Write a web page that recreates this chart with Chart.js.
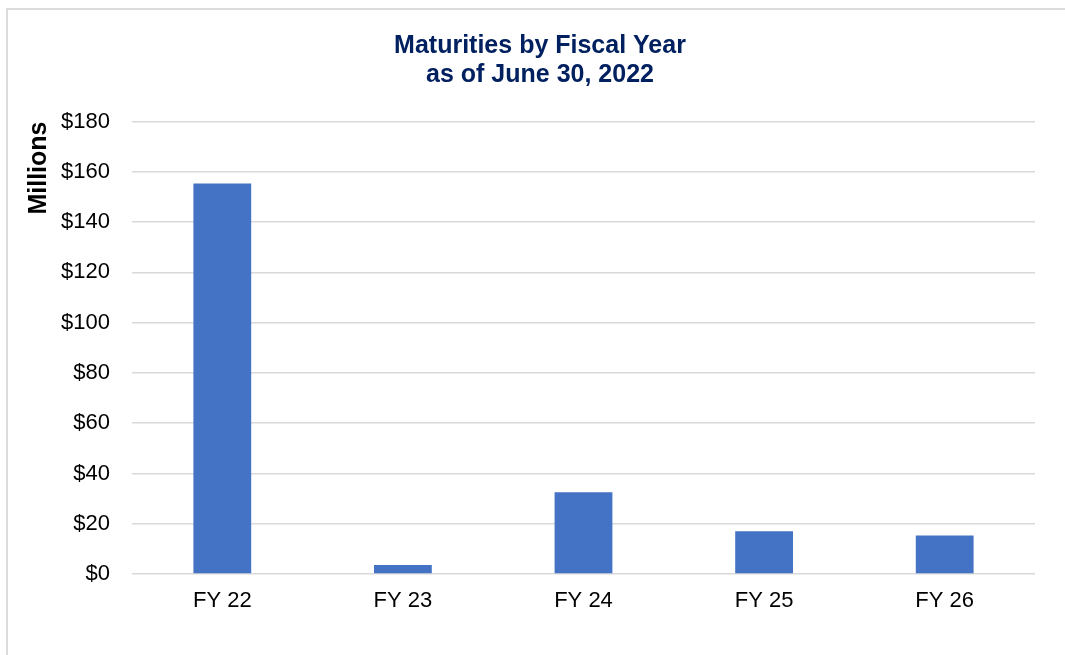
<!DOCTYPE html>
<html>
<head>
<meta charset="utf-8">
<script src="https://cdn.jsdelivr.net/npm/chart.js@4/dist/chart.umd.min.js"></script>
<style>
  html, body { margin: 0; padding: 0; background: #fff; overflow: hidden; }
  #frame {
    position: absolute; left: 6px; top: 8px; width: 1100px; height: 700px;
    border: 2px solid #dcdcdc;
  }
  #wrap { position: absolute; left: 0; top: 0; width: 1065px; height: 655px; }
</style>
</head>
<body>
<div id="frame"></div>
<div id="wrap"><canvas id="mychart"></canvas></div>
<script>
// dados (milhões de dólares)
const categorias = ["FY 22", "FY 23", "FY 24", "FY 25", "FY 26"]
const vencimentos = [155.3, 3.6, 32.5, 17.0, 15.3]
const tituloLinhas = ["Maturities by Fiscal Year", "as of June 30, 2022"]
const tituloEixoY = "Millions"

const fonte = 'Arial, "Liberation Sans", sans-serif'
const ctx = document.getElementById('mychart').getContext("2d");

new Chart(ctx, {
    type: 'bar',
    data: {
        labels: categorias,
        datasets: [{
            label: 'Maturities',
            data: vencimentos,
            backgroundColor: '#4472c4',
            borderWidth: 0,
            categoryPercentage: 1,
            barPercentage: 0.32
        }]
    },
    options: {
        responsive: true,
        maintainAspectRatio: false,
        animation: false,
        devicePixelRatio: 1,
        // padding esquerdo desloca o título para a direita, como no original
        layout: {
            padding: { left: 45, right: 30, top: 0, bottom: 0 }
        },
        plugins: {
            legend: { display: false },
            tooltip: { enabled: false },
            title: {
                display: true,
                text: tituloLinhas,
                color: '#002060',
                font: { family: fonte, size: 25, weight: 'bold', lineHeight: 1.15 },
                padding: { top: 32, bottom: 32 }
            }
        },
        scales: {
            x: {
                grid: { display: false, drawTicks: false },
                border: { display: false },
                ticks: {
                    color: '#000',
                    padding: 14,
                    font: { family: fonte, size: 22 }
                },
                afterFit: (scale) => { scale.height = 81 }
            },
            y: {
                min: 0,
                max: 180,
                grid: { color: '#d9d9d9', lineWidth: 1.5, drawTicks: false },
                border: { display: false },
                ticks: {
                    stepSize: 20,
                    color: '#000',
                    padding: 22,
                    font: { family: fonte, size: 22 },
                    callback: (v) => '$' + v
                },
                title: {
                    display: true,
                    text: tituloEixoY,
                    align: 'end',
                    color: '#000',
                    font: { family: fonte, size: 25, weight: 'bold' },
                    padding: { top: -21, bottom: 0 }
                },
                afterFit: (scale) => { scale.width = 87 }
            }
        }
    }
});
</script>
</body>
</html>
